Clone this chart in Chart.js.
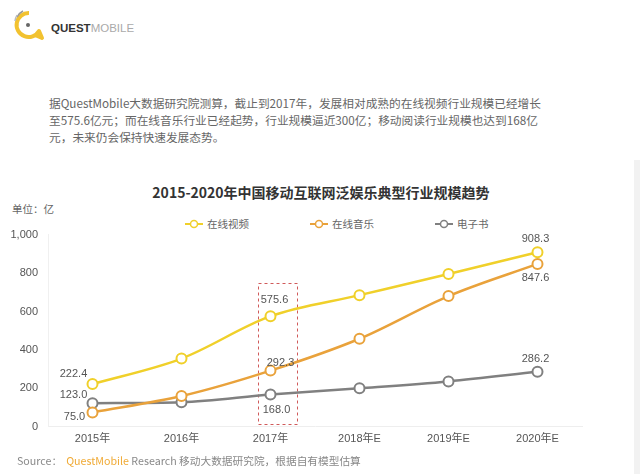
<!DOCTYPE html>
<html>
<head>
<meta charset="utf-8">
<script src="https://cdn.jsdelivr.net/npm/chart.js@4.4.1/dist/chart.umd.min.js"></script>
<style>
  html, body { margin:0; padding:0; background:#fff; }
  body { width:640px; height:474px; position:relative; overflow:hidden;
         font-family:"Noto Sans CJK SC","Liberation Sans",sans-serif; }
  .logo { position:absolute; left:13px; top:8px; }
  .brand { position:absolute; left:51px; top:22px; font-family:"Liberation Sans",Arial,sans-serif;
           font-size:11.5px; }
  .brand b { color:#333; }
  .brand span { color:#aaa; font-weight:normal; }
  .intro { position:absolute; left:49px; top:94px; font-size:11.7px; line-height:17px; color:#666; white-space:nowrap; }
  .title { position:absolute; left:0; width:642px; top:182px; text-align:center; font-size:14px; font-weight:600; color:#333; }
  .unit { position:absolute; left:12px; top:201px; font-size:10.5px; color:#666; }
  #legend { position:absolute; left:185px; top:216px; display:flex; gap:61px; font-size:10.5px; color:#666; }
  #legend div { display:flex; align-items:center; }
  #legend svg { margin-right:4px; }
  #chart { position:absolute; left:0; top:218px; }
  .source { position:absolute; left:17px; top:453px; font-size:10.7px; color:#888; white-space:nowrap; }
  .source em { font-style:normal; color:#F0AA35; margin-left:4px; }
  .edge { position:absolute; left:634px; top:160px; width:6px; height:314px; background:#f2f2f2; }
</style>
</head>
<body>
<svg class="logo" width="32" height="34" viewBox="0 0 32 34">
  <path d="M16 5 A12 12 0 1 0 26 23 L29 30 L22 27" fill="none" stroke="#F2C230" stroke-width="4" stroke-linejoin="round"/>
  <circle cx="15" cy="17" r="2" fill="#666"/>
  <path d="M4 9 A14 14 0 0 1 10 3" fill="none" stroke="#999" stroke-width="1.5"/>
  <path d="M2 13 A16 16 0 0 1 4 7" fill="none" stroke="#bbb" stroke-width="1.5"/>
</svg>
<div class="brand"><b>QUEST</b><span>MOBILE</span></div>

<div class="intro">据QuestMobile大数据研究院测算，截止到2017年，发展相对成熟的在线视频行业规模已经增长<br>至575.6亿元；而在线音乐行业已经起势，行业规模逼近300亿；移动阅读行业规模也达到168亿<br>元，未来仍会保持快速发展态势。</div>

<div class="title">2015-2020年中国移动互联网泛娱乐典型行业规模趋势</div>
<div class="unit">单位：亿</div>
<div id="legend"></div>

<canvas id="chart" width="640" height="237"></canvas>

<div class="source">Source：<em>QuestMobile</em> Research 移动大数据研究院，根据自有模型估算</div>
<div class="edge"></div>

<script>
// ================= DATA =================
const categories = ["2015年","2016年","2017年","2018年E","2019年E","2020年E"];
const seriesNames = ["在线视频","在线音乐","电子书"];
const videoValues = [222.4, 355, 575.6, 685, 795, 908.3];
const musicValues = [75.0, 160, 292.3, 458, 680, 847.6];
const ebookValues = [123.0, 128, 168.0, 200, 236, 286.2];
const yTicks = [0, 200, 400, 600, 800, 1000];

const colors = ["#F0D02A", "#E9A23B", "#808080"];

// which points carry a value label: [series, index, dx, dy]
const labelSpots = [
  [0, 0, -19, -10], [2, 0, -19, -8], [1, 0, -18, 5],
  [0, 2, 4, -16], [1, 2, 10, -8], [2, 2, 6, 15],
  [0, 5, -2, -13], [1, 5, -2, 14], [2, 5, -2, -13]
];

// ================= LEGEND =================
const legend = document.getElementById("legend");
seriesNames.forEach((name, i)=>{
  const item = document.createElement("div");
  item.innerHTML =
    '<svg width="18" height="10"><line x1="0" y1="5" x2="18" y2="5" stroke="'+colors[i]+'" stroke-width="2"/>' +
    '<circle cx="9" cy="5" r="3.5" fill="#fff" stroke="'+colors[i]+'" stroke-width="1.5"/></svg>' + name;
  legend.appendChild(item);
});

// ================= PLUGINS =================
const valueLabels = {
  id: "valueLabels",
  afterDatasetsDraw(chart){
    const ctx = chart.ctx;
    ctx.save();
    ctx.font = "11px 'Liberation Sans', Arial, sans-serif";
    ctx.fillStyle = "#555";
    ctx.textAlign = "center";
    ctx.textBaseline = "middle";
    labelSpots.forEach(([s, i, dx, dy])=>{
      const pt = chart.getDatasetMeta(s).data[i];
      const v = chart.data.datasets[s].data[i];
      ctx.fillText(v.toFixed(1), pt.x + dx, pt.y + dy);
    });
    ctx.restore();
  }
};

const highlightBox = {
  id: "highlightBox",
  beforeDatasetsDraw(chart){
    const x = chart.scales.x, y = chart.scales.y;
    const cx = x.getPixelForValue(2);
    const top = y.getPixelForValue(750), bottom = y.getPixelForValue(18);
    const ctx = chart.ctx;
    ctx.save();
    ctx.strokeStyle = "#D05A5A";
    ctx.lineWidth = 1;
    ctx.setLineDash([3, 3]);
    ctx.strokeRect(Math.round(cx - 13) + 0.5, Math.round(top) + 0.5, 39, Math.round(bottom - top));
    ctx.restore();
  }
};

// ================= CHART =================
const makeSet = (label, data, color)=>({
  label: label,
  data: data,
  borderColor: color,
  backgroundColor: "#fff",
  borderWidth: 2.5,
  pointRadius: 5,
  pointBorderWidth: 2,
  pointBackgroundColor: "#fff",
  pointBorderColor: color,
  tension: 0.3,
  cubicInterpolationMode: "monotone"
});

new Chart(document.getElementById("chart"), {
  type: "line",
  data: {
    labels: categories,
    datasets: [
      makeSet(seriesNames[0], videoValues, colors[0]),
      makeSet(seriesNames[1], musicValues, colors[1]),
      makeSet(seriesNames[2], ebookValues, colors[2])
    ]
  },
  options: {
    responsive: false,
    animation: false,
    devicePixelRatio: 1,
    layout: { padding: { top: 4, right: 58, bottom: 3, left: 0 } },
    plugins: { legend: { display: false }, title: { display: false }, tooltip: { enabled: false } },
    scales: {
      x: {
        offset: true,
        grid: { display: false, drawTicks: false },
        border: { color: "#eeeeee" },
        ticks: { padding: 6, color: "#555", font: { size: 11, family: "'Liberation Sans', 'Noto Sans CJK SC', sans-serif" } }
      },
      y: {
        min: 0, max: 1000,
        afterFit: s=>{ s.width = 48; },
        afterBuildTicks: s=>{ s.ticks = yTicks.map(v=>({ value: v })); },
        grid: { display: false, drawTicks: false },
        border: { color: "#f0f0f0" },
        ticks: {
          padding: 10, color: "#555",
          font: { size: 11, family: "'Liberation Sans', Arial, sans-serif" },
          callback: v=>v.toLocaleString("en-US")
        }
      }
    }
  },
  plugins: [highlightBox, valueLabels]
});
</script>
</body>
</html>
